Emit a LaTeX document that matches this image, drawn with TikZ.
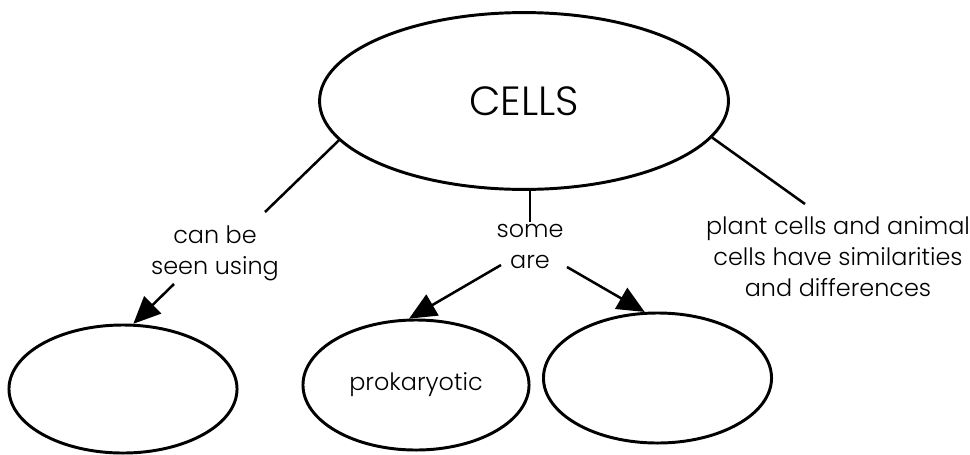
\documentclass[tikz,border=0pt]{standalone}
\usepackage{fontspec}
\setmainfont{Poppins}[UprightFont=* Light]
\usetikzlibrary{shapes.geometric,arrows.meta}
\begin{document}
\begin{tikzpicture}[x=0.025cm,y=-0.025cm,
  oval/.style={draw, ellipse, line width=2.1pt, inner sep=0pt},
  lbl/.style={align=center, inner sep=1pt, font=\fontsize{17}{22}\selectfont},
  conn/.style={line width=1.8pt},
  arr/.style={line width=1.8pt, -{Triangle[length=0.68cm,width=0.6cm]}}]
\useasboundingbox (0,0) rectangle (970,454);
\node[oval, minimum width=10.22cm, minimum height=4.42cm,
  font=\fontsize{29}{34}\selectfont] (cells) at (524,101) {CELLS};
\node[oval, minimum width=5.7cm, minimum height=3.2cm] (left) at (123,389) {};
\node[oval, minimum width=5.65cm, minimum height=3.25cm,
  font=\fontsize{17}{22}\selectfont] (prok) at (416,385) {prokaryotic};
\node[oval, minimum width=5.7cm, minimum height=3.25cm] (right) at (657.5,378) {};
\node[lbl] (lab1) at (215,253) {can be\\seen using};
\node[lbl] (lab2) at (530,246) {some\\are};
\node[lbl] (lab3) at (838,257) {plant cells and animal\\cells have similarities\\and differences};
\coordinate (c1) at (265,212);
\coordinate (c2) at (174,284);
\coordinate (c3) at (501,265);
\coordinate (c4) at (567,267);
\coordinate (c5) at (805,204);
\draw[conn] (cells.192.5) -- (c1);
\draw[arr] (c2) -- (left.81.5);
\draw[conn] (cells.south -| lab2.north) -- (lab2.north);
\draw[arr] (c3) -- (prok.96);
\draw[arr] (c4) -- (right.101.5);
\draw[conn] (cells.349.75) -- (c5);
\end{tikzpicture}
\end{document}
